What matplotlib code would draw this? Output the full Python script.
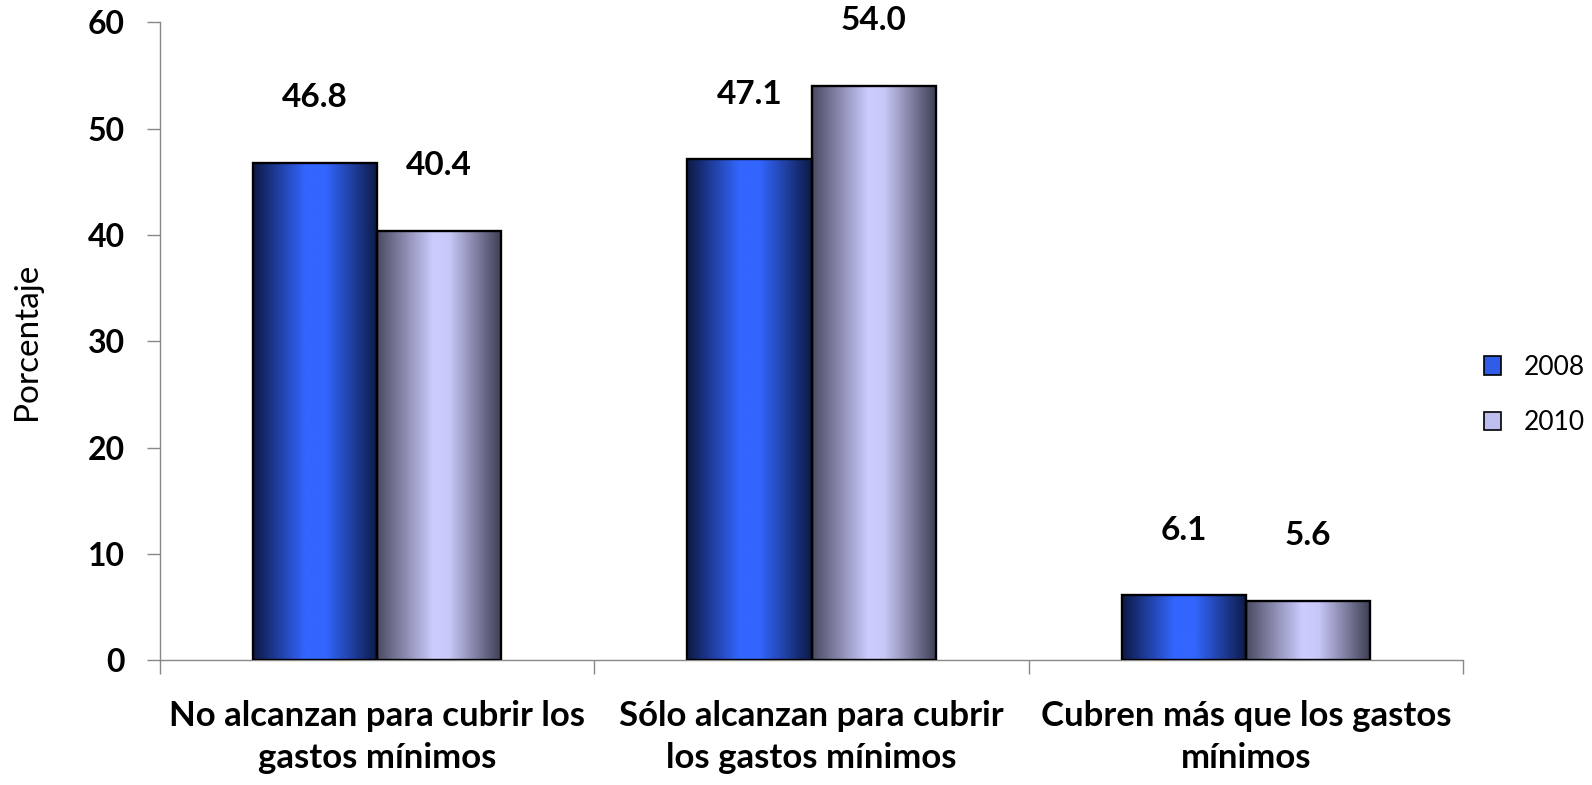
import numpy as np
import matplotlib
matplotlib.use("Agg")
import matplotlib.pyplot as plt
from matplotlib.colors import LinearSegmentedColormap
from matplotlib.patches import Patch

categories = ["No alcanzan para cubrir los\ngastos mínimos",
              "Sólo alcanzan para cubrir\nlos gastos mínimos",
              "Cubren más que los gastos\nmínimos"]
series_names = ["2008", "2010"]
values_2008 = [46.8, 47.1, 6.1]
values_2010 = [40.4, 54.0, 5.6]
yticks = [0, 10, 20, 30, 40, 50, 60]

cmap_2008 = LinearSegmentedColormap.from_list(
    "c08", [(0, "#0d1a45"), (0.42, "#3366ff"), (0.58, "#3366ff"), (1, "#0d1a45")])
cmap_2010 = LinearSegmentedColormap.from_list(
    "c10", [(0, "#4a4a62"), (0.45, "#ccccff"), (0.58, "#c8c8f8"), (1, "#3c3c52")])

FAM = ["Lato", "DejaVu Sans"]

fig = plt.figure(figsize=(15.92, 7.85), dpi=100)
ax = fig.add_axes([0.1005, 0.159, 0.8185, 0.8126])

x = np.arange(len(categories))
w = 0.286
grad = np.linspace(0, 1, 256).reshape(1, -1)

label_font = dict(family=FAM, fontweight="bold", fontsize=24)

for vals, off, cmap in [(values_2008, -w / 2, cmap_2008), (values_2010, w / 2, cmap_2010)]:
    bars = ax.bar(x + off, vals, w, facecolor="none", edgecolor="black", lw=1.7, zorder=3)
    for rect, v in zip(bars, vals):
        x0, y0 = rect.get_x(), rect.get_y()
        im = ax.imshow(grad, extent=[x0, x0 + rect.get_width(), y0, y0 + rect.get_height()],
                       aspect="auto", cmap=cmap, origin="lower", zorder=2, interpolation="bilinear")
        im.set_clip_path(rect)
        ax.annotate(f"{v:.1f}", (rect.get_x() + rect.get_width() / 2, v), xytext=(0, 47),
                    textcoords="offset points", ha="center", va="center", **label_font)

ax.set_xlim(-0.5, 2.5)
ax.set_ylim(0, 60)
ax.set_yticks(yticks)
ax.set_yticklabels([str(t) for t in yticks], family=FAM, fontweight="bold", fontsize=23)
ax.set_xticks(x)
ax.set_xticklabels(categories, family=FAM, fontweight="bold", fontsize=25,
                   linespacing=1.38)
ax.set_xticks([-0.5, 0.5, 1.5, 2.5], minor=True)
ax.tick_params(axis="x", which="major", length=0, pad=29)
ax.tick_params(axis="x", which="minor", length=10, color="#888888", width=1)
ax.tick_params(axis="y", length=9.4, color="#888888", width=1, pad=16)

for s in ["top", "right"]:
    ax.spines[s].set_visible(False)
for s in ["left", "bottom"]:
    ax.spines[s].set_color("#888888")
    ax.spines[s].set_linewidth(1)

ax.set_ylabel("Porcentaje", family=FAM, fontsize=24, labelpad=33)

handles = [Patch(facecolor="#2f5de8", edgecolor="black", lw=1.2),
           Patch(facecolor="#bdbdee", edgecolor="black", lw=1.2)]
fig.legend(handles, series_names, loc="center left", bbox_to_anchor=(0.932, 0.497),
           frameon=False, prop=dict(family=FAM, size=19), borderaxespad=0, borderpad=0,
           handlelength=0.65, handleheight=0.7, handletextpad=0.85, labelspacing=1.15)

fig.savefig("out.png", dpi=100)
